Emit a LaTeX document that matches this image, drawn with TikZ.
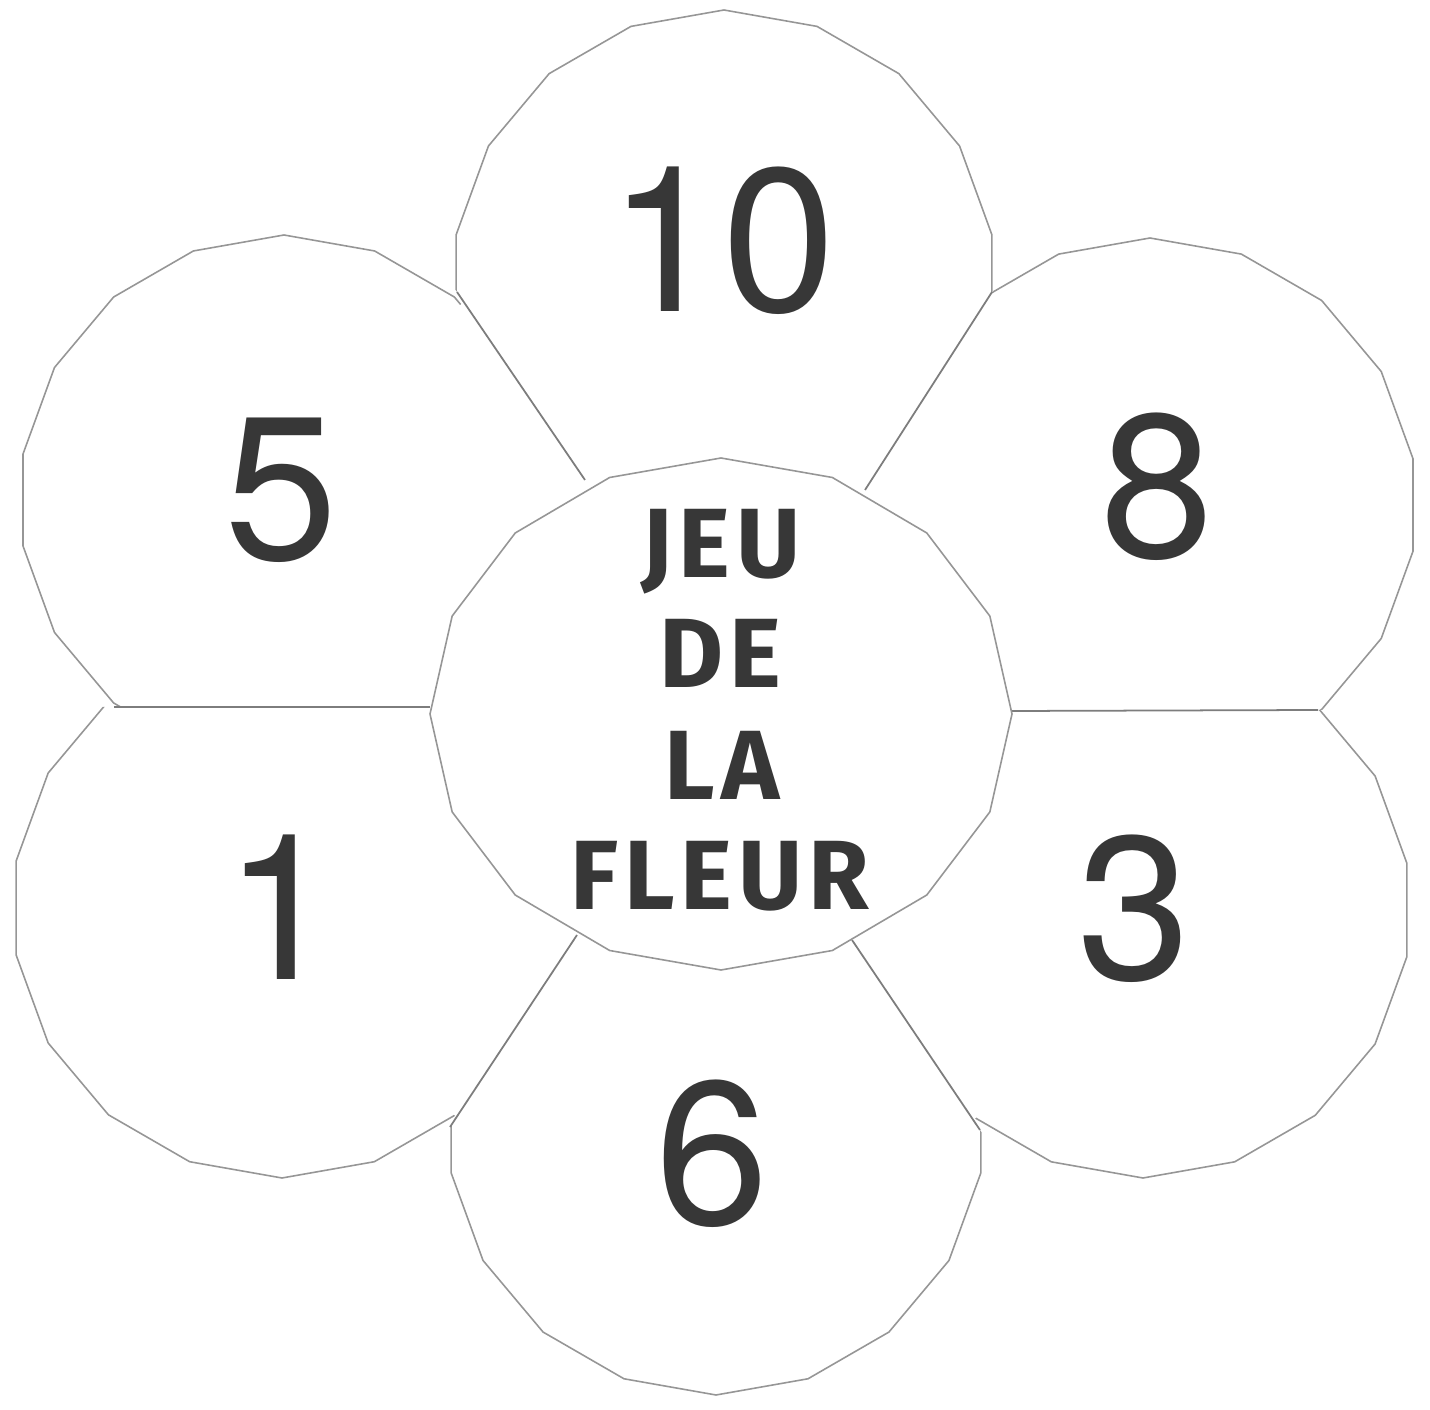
\documentclass[tikz,border=0pt]{standalone}
\usepackage{fontspec}
\newfontfamily\numfont{TeX Gyre Heros}
\newfontfamily\titlefont[LetterSpace=6]{Fira Sans}
\usetikzlibrary{calc}
\definecolor{edgegray}{RGB}{150,150,150}
\definecolor{cutgray}{RGB}{125,125,125}
\definecolor{inkgray}{RGB}{55,55,55}

\begin{document}
\begin{tikzpicture}[x=0.01cm, y=-0.01cm, every node/.style={inner sep=0pt}]
\tikzset{
    petal/.style={draw=edgegray, fill=white, line width=0.45pt},
    cutline/.style={draw=cutgray, line width=0.5pt},
    number/.style={font=\numfont\fontsize{58}{58}\selectfont, text=inkgray, anchor=base},
    title/.style={font=\titlefont\bfseries\fontsize{28}{28}\selectfont, text=inkgray, anchor=base}
}
\useasboundingbox (0,0) rectangle (1430,1410);

% heart of the flower, and the cuts between two petals (inner end, outer end)
\coordinate (c) at (721,714);
\coordinate (a1) at (585,480);  \coordinate (A1) at (457,292);   % 10 | 5
\coordinate (a2) at (430,707);  \coordinate (A2) at (114,707);   % 5 | 1
\coordinate (a3) at (577,935);  \coordinate (A3) at (450,1127);  % 1 | 6
\coordinate (a4) at (852,940);  \coordinate (A4) at (980,1130);  % 6 | 3
\coordinate (a5) at (1012,711); \coordinate (A5) at (1318,710);  % 3 | 8
\coordinate (a6) at (865,490);  \coordinate (A6) at (992,292);   % 8 | 10

% Petals: each one kept inside its own wedge, filled up to the heart
\foreach \i/\j/\cx/\cy/\r/\num/\nx/\ny in {
    6/1/724/282/272/10/722/312,
    1/2/284/500/265/5/281/560,
    2/3/282/908/270/1/281/980,
    3/4/716/1126/269/6/712/1225,
    4/5/1143/910/268/3/1134/980,
    5/6/1150/505/267/8/1157/558}{
  \begin{scope}
    \clip (c) -- (a\i) -- (A\i) -- ($(a\i)!3!(A\i)$) -- ($(a\j)!3!(A\j)$) -- (A\j) -- (a\j) -- cycle;
    \path[petal] plot[samples=19, domain=10:370] ({\cx+\r*cos(\x)}, {\cy+\r*sin(\x)}) -- cycle;
    \fill[white] (c) -- (a\i) -- ($(A\i)!0.05!(a\i)$) -- ($(A\j)!0.05!(a\j)$) -- (a\j) -- cycle;
  \end{scope}
  \node[number] (n\num) at (\nx,\ny) {\num};
}

% cuts
\foreach \k in {1,...,6}
  \draw[cutline] (a\k) -- (A\k);

% Heart
\path[petal] plot[samples=17, domain=0:360] ({721+291*cos(\x)}, {714+256*sin(\x)}) -- cycle;
\node[title] (jeu) at (721,578) {JEU};
\node[title] (de) at (720,688) {DE};
\node[title] (la) at (722,800) {LA};
\node[title] (fleur) at (720,910) {FLEUR};

\end{tikzpicture}
\end{document}
